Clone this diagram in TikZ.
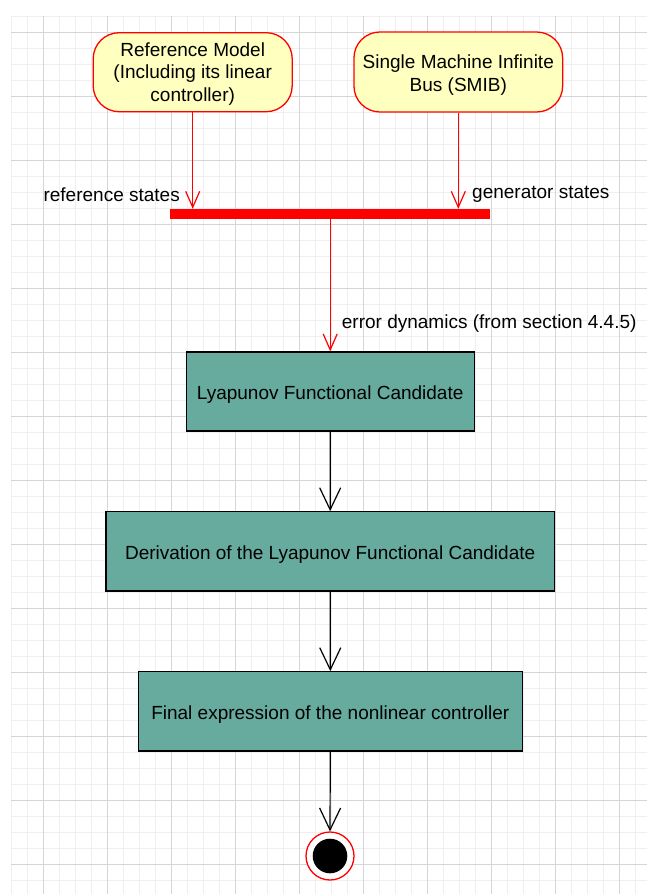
\documentclass[tikz,border=0pt]{standalone}
\usepackage{fontspec}
\setmainfont{Liberation Sans}
\usetikzlibrary{arrows.meta}
\definecolor{tealfill}{HTML}{67AB9F}
\definecolor{ylwfill}{HTML}{FFFFC0}
\definecolor{redc}{HTML}{FF0000}
\definecolor{gridmin}{HTML}{EFEFEF}
\definecolor{gridmaj}{HTML}{D6D6D6}
\tikzset{
  statebox/.style={draw=redc, fill=ylwfill, rounded corners=26pt, line width=1.3pt, align=center, inner sep=0pt},
  actbox/.style={draw=black, fill=tealfill, line width=1.2pt, inner sep=0pt, text height=16pt, text depth=0pt},
  redarrow/.style={draw=redc, line width=1.2pt, -{Straight Barb[length=16pt,width=14pt]}},
  blackarrow/.style={draw=black, line width=1.2pt, -{Straight Barb[length=22pt,width=21pt]}},
  lbl/.style={inner sep=0pt},
}
\begin{document}
\begin{tikzpicture}[x=1pt,y=-1pt,font=\fontsize{19}{22.8}\selectfont]
\useasboundingbox (0,0) rectangle (647,894);
\fill[white] (0,0) rectangle (647,894);
% grid
\foreach \x in {11,27,...,635} \draw[gridmin, line width=1pt] (\x,16) -- (\x,894);
\foreach \y in {16,32,...,880} \draw[gridmin, line width=1pt] (11,\y) -- (647,\y);
\foreach \x in {43,107,...,619} \draw[gridmaj, line width=1pt] (\x,16) -- (\x,894);
\foreach \y in {32,96,...,864} \draw[gridmaj, line width=1pt] (11,\y) -- (647,\y);

% start nodes
\node[statebox, minimum width=199pt, minimum height=79pt, text height=62.8pt, text depth=4pt] (ref) at (192.7,72.2) {Reference Model\\(Including its linear\\controller)};
\node[statebox, minimum width=208.7pt, minimum height=80pt, text height=42pt, text depth=4pt] (smib) at (458.3,72) {Single Machine Infinite\\Bus (SMIB)};

% join bar
\node[fill=redc, minimum width=320pt, minimum height=10pt, inner sep=0pt] (bar) at (330,214) {};

\draw[redarrow] (ref.south) -- (ref.south |- bar.north);
\draw[redarrow] (smib.south) -- (smib.south |- bar.north);
\node[lbl, anchor=base east] (reflbl) at (180,201) {reference states};
\node[lbl, anchor=base west] (genlbl) at (472,198) {generator states};

% activity boxes
\node[actbox, minimum width=288pt, minimum height=79pt] (lyap) at (330.2,391.5) {Lyapunov Functional Candidate};
\node[actbox, minimum width=448.3pt, minimum height=79.3pt] (deriv) at (330.15,551.35) {Derivation of the Lyapunov Functional Candidate};
\node[actbox, minimum width=384pt, minimum height=79.3pt] (final) at (330.3,711.35) {Final expression of the nonlinear controller};

\draw[redarrow] (bar.south -| lyap.north) -- (lyap.north);
\node[lbl, anchor=base west] (errlbl) at (341.7,328) {error dynamics (from section 4.4.5)};

% end state
\node[circle, draw=redc, fill=white, line width=1.3pt, minimum size=48pt, inner sep=0pt] (endo) at (330,856) {};
\node[circle, fill=black, minimum size=34.6pt, inner sep=0pt] (endi) at (330,856) {};

\draw[blackarrow] (lyap.south) -- (deriv.north);
\draw[blackarrow] (deriv.south) -- (final.north);
\draw[blackarrow] (final.south) -- (endo.north);
\end{tikzpicture}
\end{document}
